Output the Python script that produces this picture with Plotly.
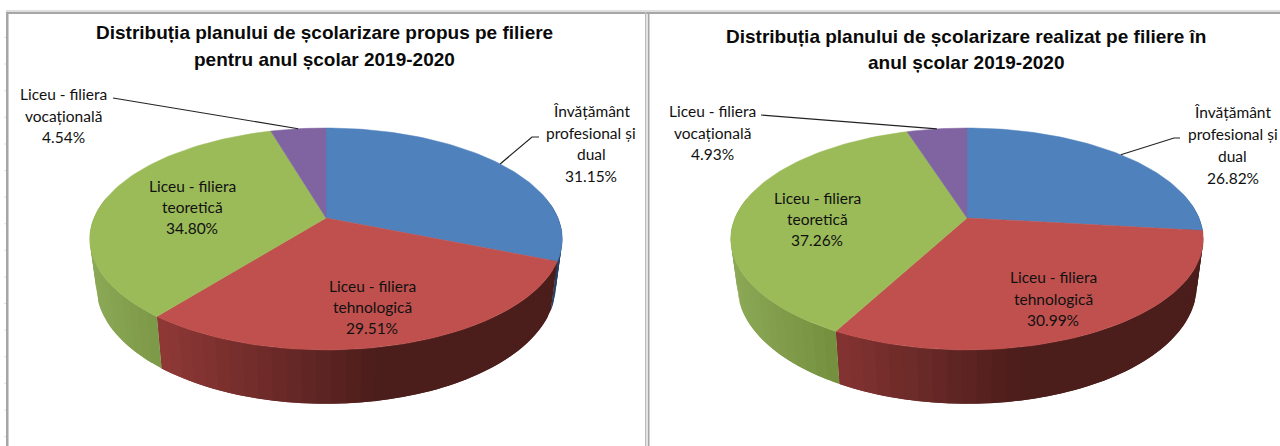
import numpy as np
import plotly.graph_objects as go

# ---- data ----
categories = ["Învățământ profesional și dual", "Liceu - filiera tehnologică",
              "Liceu - filiera teoretică", "Liceu - filiera vocațională"]
label_lines = [["Învățământ", "profesional și", "dual"],
               ["Liceu - filiera", "tehnologică"],
               ["Liceu - filiera", "teoretică"],
               ["Liceu - filiera", "vocațională"]]
propus = [31.15, 29.51, 34.80, 4.54]
realizat = [26.82, 30.99, 37.26, 4.93]
title_propus = ["Distribuția planului de școlarizare propus pe filiere",
                "pentru anul școlar 2019-2020"]
title_realizat = ["Distribuția planului de școlarizare realizat pe filiere în",
                  "anul școlar 2019-2020"]

# ---- styles / layout ----
TOP = ["#4f81bd", "#c0504d", "#9bbb59", "#8064a2"]
FONT = "Liberation Sans, sans-serif"
LABEL_FONT = "Lato, sans-serif"
R, H, K = 232.0, 107.0, 0.189
APEX_Y = 218.0

def project(frac, cx):
    """frac of the turn, clockwise from 12 o'clock -> top rim screen coords."""
    a = 2 * np.pi * np.asarray(frac)
    X, Y = np.sin(a), np.cos(a)
    w = 1 + K * Y
    return cx + R * X / w, APEX_Y - H * Y / w

def lower(x, y, cx):
    return cx + 0.972 * (x - cx), y + 46 + 0.06 * (y - APEX_Y)

def mix(c0, c1, t):
    a = np.array(c0); b = np.array(c1)
    r = a + (b - a) * min(max(t, 0), 1)
    return "rgb(%d,%d,%d)" % tuple(r)

def side_colour(idx, t):
    if idx == 0:
        return "rgb(38,66,102)"
    if idx == 1:
        return mix((146, 58, 56), (75, 29, 27), (t - 0.12) / 0.5)
    if idx == 2:
        return mix((139, 168, 86), (116, 144, 62), t / 0.22)
    return "rgb(90,70,115)"

fig = go.Figure()

def add_poly(xs, ys, colour, width=0.0):
    fig.add_trace(go.Scatter(x=list(xs), y=list(ys), mode="lines", fill="toself",
                             fillcolor=colour, line=dict(color=colour, width=width),
                             hoverinfo="skip", showlegend=False))

def draw_pie(values, cx):
    vals = np.array(values, float)
    fr = vals / vals.sum()
    edges = np.concatenate([[0], np.cumsum(fr)])
    # side wall, front half only; each band runs on under the next one so no seams show
    for i in range(len(vals)):
        lo, hi = edges[i], edges[i + 1]
        lo2, hi2 = max(lo, 0.22), min(hi, 0.78)
        if hi2 <= lo2:
            continue
        n = max(2, int((hi2 - lo2) * 120))
        f = np.linspace(lo2, hi2, n + 1)
        for j in range(n):
            ff = np.linspace(f[j], f[min(j + 2, n)], 5)
            x, y = project(ff, cx)
            xl, yl = lower(x, y, cx)
            xm = project((f[j] + f[j + 1]) / 2, cx)[0]
            t = (xm - (cx - R)) / (2 * R)
            add_poly(np.r_[x, xl[::-1], x[0]], np.r_[y, yl[::-1], y[0]], side_colour(i, t))
    # top face
    for i in range(len(vals)):
        f = np.linspace(edges[i], edges[i + 1], max(8, int(fr[i] * 240)))
        x, y = project(f, cx)
        add_poly(np.r_[cx, x, cx], np.r_[APEX_Y, y, APEX_Y], TOP[i], 0.5)
    return edges

annotations = []
def text(x, y, s, size, family, color="#111111"):
    annotations.append(dict(x=x, y=y, text=s, xref="x", yref="y", showarrow=False,
                            xanchor="center", yanchor="middle",
                            font=dict(size=size, family=family, color=color)))

def leader(pts, edges, idx, cx):
    ex, ey = project((edges[idx] + edges[idx + 1]) / 2, cx)
    xs = [p[0] for p in pts] + [float(ex)]
    ys = [p[1] for p in pts] + [float(ey)]
    fig.add_trace(go.Scatter(x=xs, y=ys, mode="lines", line=dict(color="#222222", width=1.2),
                             hoverinfo="skip", showlegend=False))

def labels(values, cx, places, title, title_pos):
    edges = draw_pie(values, cx)
    for i, (px, py, step) in enumerate(places):
        lines = label_lines[i] + ["%.2f%%" % values[i]]
        for k, s in enumerate(lines):
            text(px, py + k * step, s, 15.5, LABEL_FONT)
    for (tx, ty), s in zip(title_pos, title):
        text(tx, ty, s, 19, FONT, "#0a0a0a")
    return edges

e1 = labels(propus, 326, [(591, 111, 21.7), (372, 286, 21), (192, 186, 21), (63, 94, 21.5)],
            ["<b>%s</b>" % s for s in title_propus], [(324, 32), (324, 59)])
leader([(539, 137), (532, 137)], e1, 0, 326)
leader([(113, 98)], e1, 3, 326)

e2 = labels(realizat, 967, [(1232.5, 112, 22), (1053, 277, 21.5), (817, 198, 21), (712, 111, 21.5)],
            ["<b>%s</b>" % s for s in title_realizat], [(966, 36), (966, 62)])
leader([(1180, 138), (1174, 138)], e2, 0, 967)
leader([(761, 115)], e2, 3, 967)

# panel frames of the worksheet screenshot
def rect(x0, y0, x1, y1, c):
    return dict(type="rect", xref="x", yref="y", x0=x0, y0=y0, x1=x1, y1=y1,
                fillcolor=c, line=dict(width=0), layer="below")

shapes = [rect(6, 10, 1280, 12, "#dedede"), rect(6, 12, 1280, 14, "#a6a6a6"),
          rect(6, 12, 8.5, 446, "#a6a6a6"),
          rect(645, 12, 646.5, 446, "#bdbdbd"), rect(646.5, 14, 648, 446, "#e4e4e4"),
          rect(648, 12, 649.5, 446, "#a6a6a6")]
for row in range(16):
    yy = 37 + row * 26.6
    shapes.append(rect(4.5, yy, 6, yy + 1, "#d8d8d8"))

fig.update_layout(
    width=1280, height=446, margin=dict(l=0, r=0, t=0, b=0),
    paper_bgcolor="white", plot_bgcolor="white", showlegend=False,
    xaxis=dict(range=[0, 1280], visible=False, fixedrange=True),
    yaxis=dict(range=[446, 0], visible=False, fixedrange=True),
    shapes=shapes, annotations=annotations,
)
fig.write_html("out.html", config={"displayModeBar": False},
               post_script="document.body.style.margin='0';document.body.style.overflow='hidden';")
